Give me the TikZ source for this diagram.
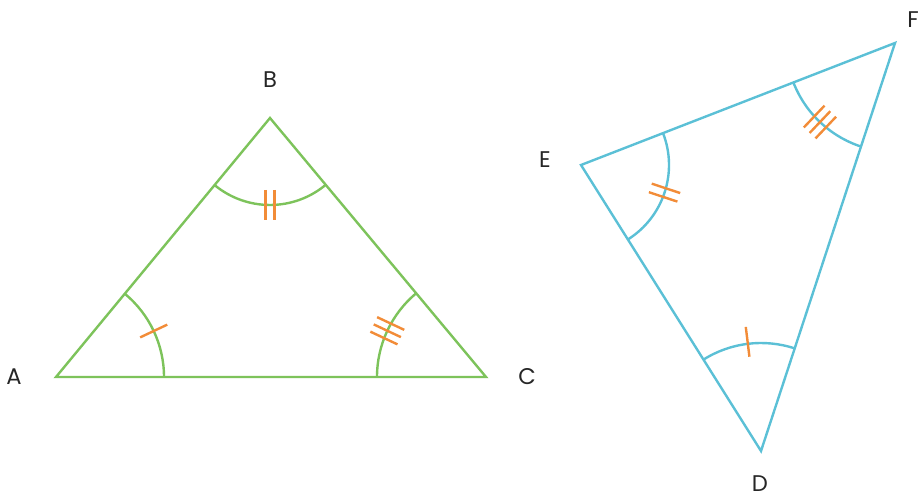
\documentclass[tikz,border=0pt]{standalone}
\usepackage{fontspec}
\setmainfont{Poppins}
\usetikzlibrary{calc}
\definecolor{grn}{HTML}{7DC35B}
\definecolor{blu}{HTML}{5BC0D6}
\definecolor{org}{HTML}{F28C38}
\tikzset{
  side/.style={line width=1.8pt},
  tickmark/.style={line width=1.8pt,org},
  lbl/.style={font=\fontsize{17}{20}\selectfont,text=black!85}
}
\begin{document}
\begin{tikzpicture}[x=0.75pt,y=0.75pt]
   \useasboundingbox (0,0) rectangle (920,499);
   % triangle ABC
   \coordinate (A) at (56,122);
   \coordinate (B) at (270,381);
   \coordinate (C) at (486,122);
   \node[lbl] (lA) at (14,122) {A};
   \node[lbl] (lB) at (270,419) {B};
   \node[lbl] (lC) at (527,122) {C};
   \draw[side,grn] (A) -- (B) -- (C) -- cycle;
   \draw[side,grn] ($(A)+(0:108)$) arc[start angle=0,end angle=50.44,radius=108];
   \draw[side,grn] ($(B)+(230.44:87)$) arc[start angle=230.44,end angle=309.83,radius=87];
   \draw[side,grn] ($(C)+(129.83:109)$) arc[start angle=129.83,end angle=180,radius=109];
   % triangle DEF
   \coordinate (E) at (581,334);
   \coordinate (F) at (895,456);
   \coordinate (D) at (761,48);
   \node[lbl] (lE) at (545,339) {E};
   \node[lbl] (lF) at (913,479) {F};
   \node[lbl] (lD) at (760,15) {D};
   \draw[side,blu] (E) -- (F) -- (D) -- cycle;
   \draw[side,blu] ($(E)+(-57.81:88)$) arc[start angle=-57.81,end angle=21.23,radius=88];
   \draw[side,blu] ($(F)+(201.23:109)$) arc[start angle=201.23,end angle=251.82,radius=109];
   \draw[side,blu] ($(D)+(71.82:108)$) arc[start angle=71.82,end angle=122.19,radius=108];
   % tick marks: vertex/mid angle/radius/offsets
   \foreach \v/\a/\r/\offs in {A/25.2/108/{0}, D/97/110/{0},
                               B/270/87/{-4.5,4.5}, E/-18.3/88/{-4.5,4.5},
                               C/154.9/109/{-8,0,8}, F/226.5/109/{-8,0,8}}
     \foreach \s in \offs
       \draw[tickmark] ($(\v)+(\a:\r-15)+(\a+90:\s)$) -- ($(\v)+(\a:\r+15)+(\a+90:\s)$);
\end{tikzpicture}
\end{document}
